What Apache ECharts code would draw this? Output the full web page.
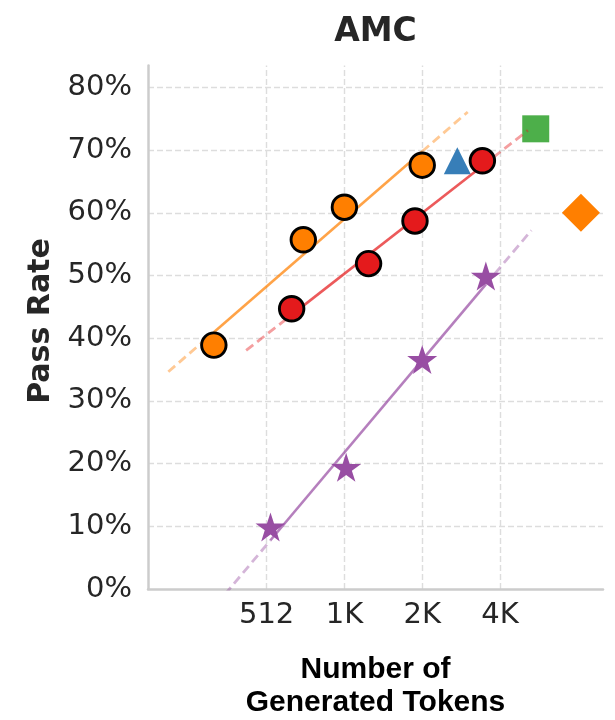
<!DOCTYPE html>
<html>
<head>
<meta charset="utf-8">
<script src="https://cdn.jsdelivr.net/npm/echarts@6/dist/echarts.min.js"></script>
<style>
  html, body { margin: 0; padding: 0; background: #ffffff; }
  #chart { width: 615px; height: 720px; }
</style>
</head>
<body>
<div id="chart"></div>
<script>
// Axis ticks
const tokenTicks = [512, 1024, 2048, 4096];
const tokenTickLabels = ['512', '1K', '2K', '4K'];
const rateTicks = [10, 20, 30, 40, 50, 60, 70, 80];

// Scaling curves (pass rate in %, vs. generated tokens)
const orangeTokens = [320, 710, 1024, 2048];
const orangeRates = [38.9, 55.7, 60.9, 67.6];
const redTokens = [640, 1270, 1920, 3500];
const redRates = [44.7, 51.9, 58.7, 68.3];
const purpleTokens = [530, 1040, 2048, 3610];
const purpleRates = [9.7, 19.2, 36.4, 49.7];

// Single reference points
const blueTokens = [2800];
const blueRates = [68.3];
const greenTokens = [5630];
const greenRates = [73.4];
const diamondTokens = [8420];
const diamondRates = [60.0];

const COLORS = {
  orange: '#ff7f00', red: '#e41a1c', blue: '#377eb8',
  green: '#4daf4a', purple: '#984ea3'
};
const TEXT = '#262626';
const EXTEND = 1.5; // fitted trend is extended by this factor beyond the data range

// Least-squares fit of rate against log2(tokens)
function fitLog2(xs, ys) {
  const lx = xs.map(Math.log2);
  const n = lx.length;
  const mx = lx.reduce((a, b) => a + b, 0) / n;
  const my = ys.reduce((a, b) => a + b, 0) / n;
  let sxy = 0, sxx = 0;
  for (let i = 0; i < n; i++) {
    sxy += (lx[i] - mx) * (ys[i] - my);
    sxx += (lx[i] - mx) * (lx[i] - mx);
  }
  const slope = sxy / sxx;
  return t => my + slope * (Math.log2(t) - mx);
}

function zip(xs, ys) { return xs.map((x, i) => [x, ys[i]]); }

// Five-pointed star symbol path
function starPath() {
  const pts = [];
  for (let k = 0; k < 10; k++) {
    const a = -Math.PI / 2 + k * Math.PI / 5;
    const r = k % 2 === 0 ? 1 : 0.381966;
    pts.push((r * Math.cos(a) * 100).toFixed(2) + ' ' + (r * Math.sin(a) * 100).toFixed(2));
  }
  return 'path://M' + pts.join(' L') + ' Z';
}

function trendSeries(xs, ys, color) {
  const f = fitLog2(xs, ys);
  const lo = Math.min(...xs), hi = Math.max(...xs);
  const base = {
    type: 'line', symbol: 'none', silent: true, z: 3,
    animation: false, clip: true
  };
  const solidStyle = { color: color, width: 2.6, opacity: 0.72 };
  const dashStyle = { color: color, width: 2.8, opacity: 0.42, type: [9, 5] };
  return [
    Object.assign({}, base, { data: [[lo, f(lo)], [hi, f(hi)]], lineStyle: solidStyle }),
    Object.assign({}, base, { data: [[lo / EXTEND, f(lo / EXTEND)], [lo, f(lo)]], lineStyle: dashStyle }),
    Object.assign({}, base, { data: [[hi, f(hi)], [hi * EXTEND, f(hi * EXTEND)]], lineStyle: dashStyle })
  ];
}

function circleSeries(xs, ys, color) {
  return {
    type: 'scatter', data: zip(xs, ys), symbol: 'circle', symbolSize: 24.5, z: 4,
    itemStyle: { color: color, borderColor: '#000', borderWidth: 2.9, opacity: 1 },
    animation: false
  };
}

const gridLineStyle = { color: '#dddddd', width: 1.4, type: [6, 3] };

const chart = echarts.init(document.getElementById('chart'), null, { renderer: 'canvas' });

const option = {
  backgroundColor: '#ffffff',
  animation: false,
  grid: { left: 148, right: 12, top: 65.5, bottom: 131, containLabel: false },
  xAxis: {
    type: 'log', logBase: 2, min: 178, max: 10250,
    axisLine: { show: true, lineStyle: { color: '#cccccc', width: 2.5 } },
    axisTick: { show: false },
    splitLine: { show: false },
    axisLabel: {
      margin: 12,
      fontFamily: 'DejaVu Sans', fontSize: 29, color: TEXT,
      formatter: v => {
        const i = tokenTicks.findIndex(t => Math.abs(t - v) < 0.5);
        return i >= 0 ? tokenTickLabels[i] : '';
      }
    }
  },
  yAxis: {
    type: 'value', min: 0, max: 83.5, interval: 10,
    axisLine: { show: true, lineStyle: { color: '#cccccc', width: 2.5 } },
    axisTick: { show: false },
    splitLine: { show: false },
    axisLabel: {
      margin: 16,
      fontFamily: 'DejaVu Sans', fontSize: 29, color: TEXT,
      formatter: v => (Math.abs(v % 10) < 1e-6 ? Math.round(v) + '%' : '')
    }
  },
  graphic: [
    {
      type: 'text', x: 375.5, y: 32,
      style: { text: 'AMC', fontFamily: 'DejaVu Sans', fontWeight: 'bold', fontSize: 33,
               fill: TEXT, align: 'center', verticalAlign: 'middle' }
    },
    {
      type: 'text', x: 41, y: 321, rotation: Math.PI / 2,
      style: { text: 'Pass Rate', fontFamily: 'DejaVu Sans', fontWeight: 'bold', fontSize: 30,
               fill: TEXT, align: 'center', verticalAlign: 'middle' }
    },
    {
      type: 'text', x: 375.5, y: 670,
      style: { text: 'Number of', fontFamily: 'Liberation Sans', fontWeight: 'bold', fontSize: 30,
               fill: '#000000', align: 'center', verticalAlign: 'middle' }
    },
    {
      type: 'text', x: 375.5, y: 703,
      style: { text: 'Generated Tokens', fontFamily: 'Liberation Sans', fontWeight: 'bold', fontSize: 30,
               fill: '#000000', align: 'center', verticalAlign: 'middle' }
    }
  ],
  series: [
    // dashed background grid
    {
      type: 'scatter', data: [], silent: true, z: 0,
      markLine: {
        z: 0, zlevel: 0,
        silent: true, symbol: 'none', animation: false,
        label: { show: false },
        lineStyle: gridLineStyle,
        data: tokenTicks.map(t => ({ xAxis: t })).concat(rateTicks.map(r => ({ yAxis: r })))
      }
    },
    // single reference points
    {
      type: 'scatter', data: zip(blueTokens, blueRates), symbol: 'triangle',
      symbolSize: [27, 27], z: 2, itemStyle: { color: COLORS.blue, opacity: 1 }
    },
    {
      type: 'scatter', data: zip(greenTokens, greenRates), symbol: 'rect',
      symbolSize: 27, z: 2, itemStyle: { color: COLORS.green, opacity: 1 }
    },
    {
      type: 'scatter', data: zip(diamondTokens, diamondRates), symbol: 'diamond',
      symbolSize: [38, 38], z: 2, itemStyle: { color: COLORS.orange, opacity: 1 }
    },
    {
      type: 'scatter', data: zip(purpleTokens, purpleRates), symbol: starPath(),
      symbolSize: [30, 29], symbolOffset: [0, -1.3], z: 2,
      itemStyle: { color: COLORS.purple, opacity: 1 }
    },
    ...trendSeries(orangeTokens, orangeRates, COLORS.orange),
    ...trendSeries(redTokens, redRates, COLORS.red),
    ...trendSeries(purpleTokens, purpleRates, COLORS.purple),
    circleSeries(orangeTokens, orangeRates, COLORS.orange),
    circleSeries(redTokens, redRates, COLORS.red)
  ]
};

chart.setOption(option);
</script>
</body>
</html>
